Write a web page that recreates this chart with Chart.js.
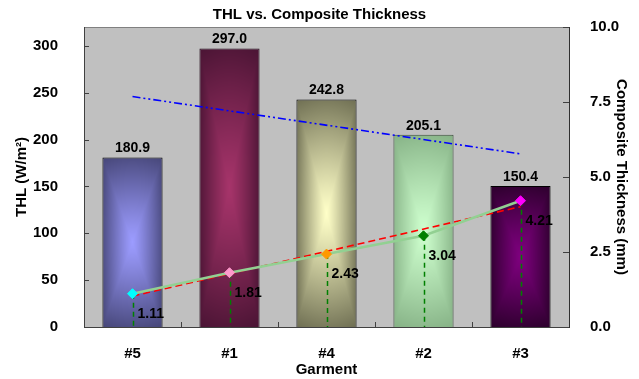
<!DOCTYPE html>
<html>
<head>
<meta charset="utf-8">
<script src="https://cdn.jsdelivr.net/npm/chart.js@4/dist/chart.umd.min.js"></script>
<style>
  html, body { margin: 0; padding: 0; background: #ffffff; }
  #wrap { width: 639px; height: 379px; }
</style>
</head>
<body>
<div id="wrap"><canvas id="chart" width="639" height="379"></canvas></div>
<script>
// ---- data ----
const garments = ['#5', '#1', '#4', '#2', '#3'];
const thl = [180.9, 297.0, 242.8, 205.1, 150.4];           // W/m²
const thickness = [1.11, 1.81, 2.43, 3.04, 4.21];          // mm
// straight trend lines, given by their ends at the first and last garment
const thlTrend = [245.8, null, null, null, 184.7];
const thicknessTrend = [1.03, null, null, null, 4.01];
const thlTicks = [0, 50, 100, 150, 200, 250, 300];
const thicknessTicks = [0, 2.5, 5, 7.5, 10];

// ---- styles ----
const FONT = "'Liberation Sans', Arial, sans-serif";
const BAR_PCT = 0.62;
const barCenter = [[156, 156, 255], [166, 52, 106], [255, 255, 200], [206, 255, 206], [126, 0, 126]];
const barEdge   = [[70, 70, 120],   [74, 20, 52],   [110, 110, 82], [134, 178, 134], [44, 0, 44]];
const barBorder = ['#000000', '#200818', '#000000', '#3a4a3a', '#000000'];
const markerColors = ['#00ffff', '#ff99cc', '#ff9900', '#008000', '#ff00ff'];

// rectangular "from centre" shading for each bar, rendered once into a pattern
const patternCache = {};
function barFill(c) {
  const i = c.dataIndex;
  const chart = c.chart;
  if (c.type !== 'data' || !chart.chartArea) return 'rgb(' + barEdge[i || 0].join(',') + ')';
  const xs = chart.scales.x, ys = chart.scales.y;
  const half = xs.width / garments.length * BAR_PCT / 2;
  const cx = xs.getPixelForValue(i);
  const top = ys.getPixelForValue(thl[i]);
  const bottom = ys.getPixelForValue(0);
  const key = [i, cx, top, bottom, half].join('|');
  if (patternCache[key]) return patternCache[key];
  const off = document.createElement('canvas');
  off.width = chart.width; off.height = chart.height;
  const g = off.getContext('2d');
  const x0 = Math.floor(cx - half), x1 = Math.ceil(cx + half);
  const y0 = Math.floor(top), y1 = Math.ceil(bottom);
  const w = x1 - x0, h = y1 - y0;
  const img = g.createImageData(w, h);
  const cy = (top + bottom) / 2, hh = (bottom - top) / 2;
  const cc = barCenter[i], ec = barEdge[i];
  for (let py = 0; py < h; py++) {
    for (let px = 0; px < w; px++) {
      const dx = Math.abs(x0 + px + 0.5 - cx) / half;
      const dy = Math.abs(y0 + py + 0.5 - cy) / hh;
      const m = Math.max(dx, dy);
      const r = Math.sqrt(dx * dx + dy * dy) / Math.SQRT2;
      const t = Math.pow(Math.min(1, 0.75 * m + 0.25 * r), 1.15);
      const k = (py * w + px) * 4;
      for (let ch = 0; ch < 3; ch++) img.data[k + ch] = Math.round(cc[ch] + (ec[ch] - cc[ch]) * t);
      img.data[k + 3] = 255;
    }
  }
  g.putImageData(img, x0, y0);
  const pat = chart.ctx.createPattern(off, 'no-repeat');
  patternCache[key] = pat;
  return pat;
}

// grey plot background with its top edge
const plotBackground = {
  id: 'plotBackground',
  beforeDraw(chart) {
    const { ctx, chartArea: a } = chart;
    ctx.save();
    ctx.fillStyle = '#c0c0c0';
    ctx.fillRect(a.left, a.top, a.right - a.left, a.bottom - a.top);
    ctx.strokeStyle = '#808080';
    ctx.lineWidth = 1;
    ctx.beginPath();
    ctx.moveTo(a.left, a.top + 0.5);
    ctx.lineTo(a.right, a.top + 0.5);
    ctx.stroke();
    ctx.restore();
  }
};

// dashed drop lines from each thickness point to the axis, drawn over the bars
const dropLines = {
  id: 'dropLines',
  afterDatasetDraw(chart, args) {
    if (args.index !== 0) return;
    const { ctx } = chart;
    const xs = chart.scales.x, ys = chart.scales.y1;
    ctx.save();
    ctx.strokeStyle = '#008000';
    ctx.lineWidth = 1.5;
    ctx.setLineDash([5, 4]);
    thickness.forEach((v, i) => {
      const x = Math.round(xs.getPixelForValue(i)) + 0.5;
      ctx.beginPath();
      ctx.moveTo(x, ys.getPixelForValue(v));
      ctx.lineTo(x, ys.getPixelForValue(0));
      ctx.stroke();
    });
    ctx.restore();
  }
};

// value labels above bars and beside thickness points
const valueLabels = {
  id: 'valueLabels',
  afterDatasetsDraw(chart) {
    const { ctx } = chart;
    const xs = chart.scales.x, ys = chart.scales.y, y1 = chart.scales.y1;
    ctx.save();
    ctx.fillStyle = '#000000';
    ctx.font = 'bold 14px ' + FONT;
    ctx.textBaseline = 'middle';
    ctx.textAlign = 'center';
    thl.forEach((v, i) => {
      ctx.fillText(v.toFixed(1), xs.getPixelForValue(i), ys.getPixelForValue(v) - 9);
    });
    ctx.textAlign = 'left';
    thickness.forEach((v, i) => {
      ctx.fillText(v.toFixed(2), xs.getPixelForValue(i) + 5, y1.getPixelForValue(v) + 20);
    });
    ctx.restore();
  }
};

// short tick marks pointing into the plot
const innerTicks = {
  id: 'innerTicks',
  afterDraw(chart) {
    const { ctx, chartArea: a } = chart;
    const xs = chart.scales.x, ys = chart.scales.y, y1 = chart.scales.y1;
    ctx.save();
    ctx.strokeStyle = '#404040';
    ctx.lineWidth = 1;
    ctx.beginPath();
    thlTicks.forEach(v => {
      const y = Math.round(ys.getPixelForValue(v)) + 0.5;
      ctx.moveTo(a.left, y); ctx.lineTo(a.left + 5, y);
    });
    thicknessTicks.forEach(v => {
      const y = Math.round(y1.getPixelForValue(v)) + 0.5;
      ctx.moveTo(a.right - 6, y); ctx.lineTo(a.right, y);
    });
    for (let i = 0; i < garments.length - 1; i++) {
      const x = Math.round(xs.getPixelForValue(i + 0.5)) + 0.5;
      ctx.moveTo(x, a.bottom); ctx.lineTo(x, a.bottom - 5);
    }
    ctx.stroke();
    ctx.restore();
  }
};

const tickFont = { family: FONT, size: 15, weight: 'bold' };
const titleFont = { family: FONT, size: 15, weight: 'bold' };

new Chart(document.getElementById('chart'), {
  data: {
    labels: garments,
    datasets: [
      {
        type: 'bar',
        label: 'THL',
        data: thl,
        yAxisID: 'y',
        backgroundColor: barFill,
        borderColor: barBorder,
        borderWidth: 1,
        barPercentage: BAR_PCT,
        categoryPercentage: 1,
        order: 5
      },
      {
        type: 'line',
        label: 'THL trend',
        data: thlTrend,
        yAxisID: 'y',
        borderColor: '#0000ff',
        borderWidth: 1.6,
        borderDash: [8, 3, 2, 3, 2, 3],
        pointRadius: 0,
        spanGaps: true,
        tension: 0,
        order: 4
      },
      {
        type: 'line',
        label: 'Thickness trend',
        data: thicknessTrend,
        yAxisID: 'y1',
        borderColor: '#ff0000',
        borderWidth: 1.6,
        borderDash: [7, 4],
        pointRadius: 0,
        spanGaps: true,
        tension: 0,
        order: 3
      },
      {
        type: 'line',
        label: 'Composite Thickness',
        data: thickness,
        yAxisID: 'y1',
        borderColor: '#92d092',
        borderWidth: 2.5,
        pointStyle: 'rectRot',
        pointRadius: 5,
        pointBackgroundColor: markerColors,
        pointBorderColor: markerColors,
        pointBorderWidth: 1,
        tension: 0,
        order: 1
      }
    ]
  },
  options: {
    responsive: false,
    animation: false,
    events: [],
    layout: { padding: 0 },
    plugins: {
      legend: { display: false },
      tooltip: { enabled: false },
      title: {
        display: true,
        text: 'THL vs. Composite Thickness',
        color: '#000000',
        font: titleFont,
        padding: { top: 4, bottom: 3 }
      }
    },
    scales: {
      x: {
        type: 'category',
        offset: true,
        grid: { display: false },
        border: { display: true, color: '#404040', width: 1 },
        ticks: { color: '#000000', font: tickFont, padding: 10, maxRotation: 0 },
        title: {
          display: true, text: 'Garment', color: '#000000', font: titleFont,
          padding: { top: 0, bottom: 0 }
        },
        afterFit(s) { s.height = 52; }
      },
      y: {
        type: 'linear',
        position: 'left',
        min: 0,
        max: 320,
        grid: { display: false },
        border: { display: true, color: '#404040', width: 1 },
        ticks: { color: '#000000', font: tickFont, padding: 18, includeBounds: false },
        afterBuildTicks(s) { s.ticks = thlTicks.map(v => ({ value: v })); },
        title: {
          display: true, text: 'THL (W/m²)', color: '#000000', font: titleFont,
          padding: { top: 13, bottom: 0 }
        },
        afterFit(s) { s.width = 84; }
      },
      y1: {
        type: 'linear',
        position: 'right',
        min: 0,
        max: 10,
        grid: { display: false },
        border: { display: true, color: '#303030', width: 1 },
        ticks: {
          color: '#000000', font: tickFont, padding: 13,
          callback: v => Number(v).toFixed(1)
        },
        afterBuildTicks(s) { s.ticks = thicknessTicks.map(v => ({ value: v })); },
        title: {
          display: true, text: 'Composite Thickness (mm)', color: '#000000', font: titleFont,
          padding: { top: 9, bottom: 0 }
        },
        afterFit(s) { s.width = 70; }
      }
    }
  },
  plugins: [plotBackground, dropLines, valueLabels, innerTicks]
});
</script>
</body>
</html>
